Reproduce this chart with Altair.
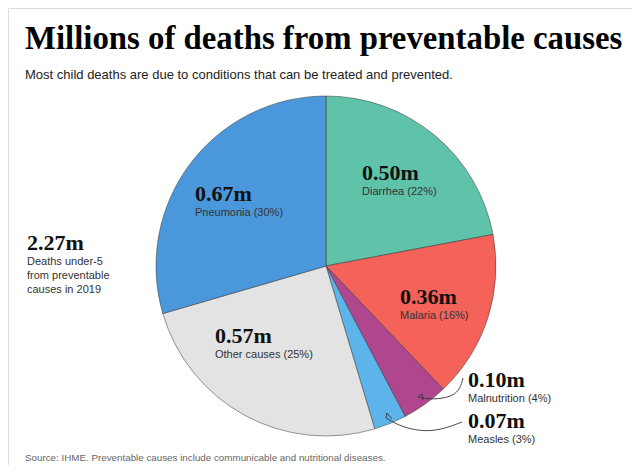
import altair as alt
import pandas as pd

# ---- data ----
causes = ["Diarrhea", "Malaria", "Malnutrition", "Measles", "Other causes", "Pneumonia"]
deaths_m = [0.50, 0.36, 0.10, 0.07, 0.57, 0.67]
shares = ["22%", "16%", "4%", "3%", "25%", "30%"]
colors = ["#5fc3a9", "#f5625a", "#b0478e", "#5db4ea", "#e3e3e3", "#4a98db"]
total_label = "2.27m"
total_lines = ["Deaths under-5", "from preventable", "causes in 2019"]

W, H = 624, 457
CX, CY, R = 318, 258, 170

pie_df = pd.DataFrame({"cause": causes, "deaths": deaths_m, "order": list(range(len(causes)))})

# annotation layout (chart pixel coords)
label_pos = {
    "Diarrhea": (354, 172),
    "Malaria": (392, 296),
    "Malnutrition": (460, 379),
    "Measles": (460, 420),
    "Other causes": (207, 335),
    "Pneumonia": (187, 193),
}
big_rows, small_rows = [], []
for c, v, s in zip(causes, deaths_m, shares):
    x, y = label_pos[c]
    big_rows.append({"x": x, "y": y, "t": f"{v:.2f}m"})
    small_rows.append({"x": x, "y": y + 15, "t": f"{c} ({s})"})
big_rows.append({"x": 19, "y": 242, "t": total_label})
for i, line in enumerate(total_lines):
    small_rows.append({"x": 19, "y": 257 + 14 * i, "t": line})

xs = alt.Scale(domain=[0, W], range=[0, W])
ys = alt.Scale(domain=[0, H], range=[0, H])

pie = alt.Chart(pie_df).mark_arc(stroke="#333333", strokeWidth=0.5, outerRadius=R).encode(
    theta=alt.Theta("deaths:Q", stack=True),
    order=alt.Order("order:Q"),
    color=alt.Color("cause:N", scale=alt.Scale(domain=causes, range=colors), legend=None),
    x=alt.value(CX), y=alt.value(CY),
)

big = alt.Chart(pd.DataFrame(big_rows)).mark_text(
    font="Liberation Serif", fontWeight="bold", fontSize=22, align="left", baseline="alphabetic", color="#111111"
).encode(x=alt.X("x:Q", scale=xs, axis=None), y=alt.Y("y:Q", scale=ys, axis=None), text="t:N")

small = alt.Chart(pd.DataFrame(small_rows)).mark_text(
    font="Liberation Sans", fontSize=11, align="left", baseline="alphabetic", color="#333333"
).encode(x=alt.X("x:Q", scale=xs, axis=None), y=alt.Y("y:Q", scale=ys, axis=None), text="t:N")

# arrows (curved leader lines)
arrow_df = pd.DataFrame([
    {"g": "a", "i": 0, "x": 455, "y": 370}, {"g": "a", "i": 1, "x": 450, "y": 388},
    {"g": "a", "i": 2, "x": 425, "y": 392}, {"g": "a", "i": 3, "x": 410, "y": 389},
    {"g": "b", "i": 0, "x": 454, "y": 414}, {"g": "b", "i": 1, "x": 425, "y": 425},
    {"g": "b", "i": 2, "x": 395, "y": 420}, {"g": "b", "i": 3, "x": 378, "y": 410},
])
arrows = alt.Chart(arrow_df).mark_line(interpolate="basis", color="#333333", strokeWidth=0.9).encode(
    x=alt.X("x:Q", scale=xs, axis=None), y=alt.Y("y:Q", scale=ys, axis=None),
    detail="g:N", order="i:Q")
heads_df = pd.DataFrame([
    {"g": "a1", "x": 414, "y": 386}, {"g": "a1", "x": 410, "y": 389}, {"g": "a1", "x": 415, "y": 392},
    {"g": "b1", "x": 379, "y": 405}, {"g": "b1", "x": 378, "y": 410}, {"g": "b1", "x": 384, "y": 411},
])
heads = alt.Chart(heads_df).mark_line(color="#333333", strokeWidth=0.9).encode(
    x=alt.X("x:Q", scale=xs, axis=None), y=alt.Y("y:Q", scale=ys, axis=None), detail="g:N")

title_df = pd.DataFrame([{"x": 17, "y": 41, "t": "Millions of deaths from preventable causes"}])
title = alt.Chart(title_df).mark_text(
    font="Liberation Serif", fontWeight="bold", fontSize=32.8, align="left", baseline="alphabetic", color="#000000"
).encode(x=alt.X("x:Q", scale=xs, axis=None), y=alt.Y("y:Q", scale=ys, axis=None), text="t:N")

sub_df = pd.DataFrame([
    {"x": 17, "y": 71, "t": "Most child deaths are due to conditions that can be treated and prevented."},
])
sub = alt.Chart(sub_df).mark_text(
    font="Liberation Sans", fontSize=13, align="left", baseline="alphabetic", color="#222222"
).encode(x=alt.X("x:Q", scale=xs, axis=None), y=alt.Y("y:Q", scale=ys, axis=None), text="t:N")

src_df = pd.DataFrame([{"x": 17, "y": 453, "t": "Source: IHME. Preventable causes include communicable and nutritional diseases."}])
src = alt.Chart(src_df).mark_text(
    font="Liberation Sans", fontSize=9.8, align="left", baseline="alphabetic", color="#666666"
).encode(x=alt.X("x:Q", scale=xs, axis=None), y=alt.Y("y:Q", scale=ys, axis=None), text="t:N")

chart = alt.layer(pie, arrows, heads, big, small, title, sub, src).properties(
    width=W, height=H, padding=0
).configure_view(stroke=None).configure(background="white")

chart.save("out.html", embed_options={"renderer": "svg", "actions": False})
